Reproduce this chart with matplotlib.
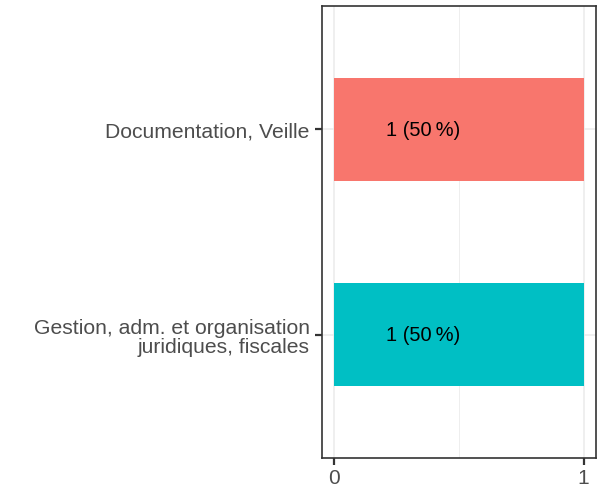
import matplotlib

matplotlib.use("Agg")
import matplotlib.pyplot as plt

plt.rcParams["font.family"] = ["Liberation Sans", "DejaVu Sans"]

categories = ["Gestion, adm. et organisation\njuridiques, fiscales", "Documentation, Veille"]
counts = [1, 1]
labels = ["1 (50\u202f%)", "1 (50\u202f%)"]
colors = ["#00BFC4", "#F8766D"]
xticks = [0, 1]

fig = plt.figure(figsize=(6.03, 4.89), dpi=100)
ax = fig.add_axes([322 / 603, 1 - 459 / 489, 274 / 603, 452 / 489])

ypos = list(range(1, len(categories) + 1))
ax.barh(ypos, counts, height=0.5, color=colors, zorder=2)
for y, lab in zip(ypos, labels):
    ax.text(0.355, y, lab, ha="center", va="center", fontsize=14.5, color="black", zorder=3)

ax.set_xlim(-0.05, 1.05)
ax.set_ylim(0.4, 2.6)
ax.set_xticks(xticks)
ax.set_xticklabels([str(t) for t in xticks], fontsize=15, color="#4D4D4D")
ax.set_xticks([0.5], minor=True)
ax.set_yticks(ypos)
ax.set_yticklabels(categories, fontsize=15.2, color="#4D4D4D", linespacing=1.0)

ax.grid(True, which="major", color="#EBEBEB", linewidth=1.1, zorder=0)
ax.grid(True, which="minor", axis="x", color="#EBEBEB", linewidth=0.6, zorder=0)
ax.tick_params(which="major", length=5, width=1.6, color="#333333", pad=4)
ax.tick_params(axis="x", which="major", pad=2)
ax.tick_params(which="minor", length=0)
ax.set_axisbelow(True)
for spine in ax.spines.values():
    spine.set_color("#333333")
    spine.set_linewidth(1.2)

fig.savefig("out.png", dpi=100)
